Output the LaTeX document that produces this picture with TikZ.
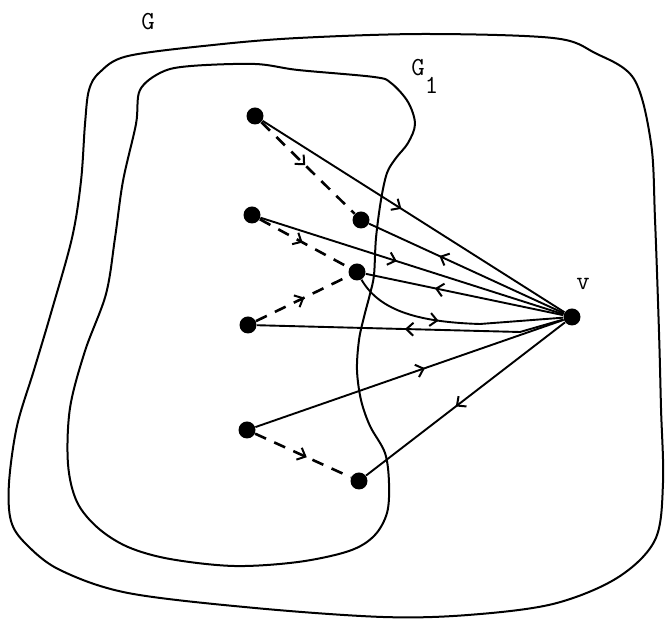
\documentclass[tikz,border=0pt]{standalone}
\usetikzlibrary{arrows.meta,decorations.markings}
\tikzset{
  vertex/.style={circle, fill=black, inner sep=0pt, minimum size=8.5pt},
  region/.style={line width=1pt, line join=round},
  edge/.style={line width=0.95pt},
  pathedge/.style={line width=1.3pt, dash pattern=on 6pt off 4.5pt},
  midarrow/.style={postaction={decorate}, decoration={markings,
      mark=at position #1 with {\arrow{Straight Barb[length=3.5pt,width=6.5pt,line width=1pt]}}}},
  lbl/.style={font=\fontsize{13}{15}\selectfont\ttfamily, inner sep=0pt}
}
\begin{document}
\begin{tikzpicture}[x=0.5pt,y=-0.5pt]
  \useasboundingbox (0,0) rectangle (666,625);
  % the graph G
  \draw[region] plot[smooth cycle, tension=0.55] coordinates {
    (128,56) (100,72) (89,90) (85,124) (81,181) (72,238) (51,313) (34,370)
    (17,426) (9,483) (11,521) (26,544) (60,570) (128,593) (255,608) (383,617)
    (468,615) (553,604) (617,578) (655,540) (663,483) (661,408) (659,332)
    (655,219) (651,143) (634,79) (595,53) (553,38) (425,34) (298,38) (213,45)};
  % the subgraph G1
  \draw[region] plot[smooth cycle, tension=0.55] coordinates {
    (140,90) (162,72) (191,66) (255,64) (298,70) (374,77) (391,83) (408,102)
    (415,124) (408,143) (396,158) (387,173) (381,200) (376,238) (374,275)
    (370,294) (364,317) (359,340) (357,370) (361,400) (370,426) (385,453)
    (389,483) (387,513) (374,536) (349,551) (298,562) (234,566) (170,559)
    (128,547) (98,528) (77,502) (68,464) (70,408) (85,351) (106,294)
    (115,238) (123,181) (136,124)};
  \node[lbl] (gbig) at (148,22) {G};
  \node[lbl, anchor=base west] (gsub) at (411,76) {G\raisebox{-9pt}{1}};

  % vertices
  \node[vertex] (a1) at (255,116) {};
  \node[vertex] (b1) at (361,220) {};
  \node[vertex] (a2) at (252,215) {};
  \node[vertex] (b2) at (357,272) {};
  \node[vertex] (a3) at (248,325) {};
  \node[vertex] (a4) at (247,430) {};
  \node[vertex] (b4) at (359,481) {};
  \node[vertex] (v) at (572,317) {};
  \node[lbl] (vlbl) at (583,284) {v};
  \coordinate (kink) at (520,332);
  \coordinate (bend) at (480,324);

  % paths inside G1
  \draw[pathedge, midarrow=0.47] (a1) -- (b1);
  \draw[pathedge, midarrow=0.48] (a2) -- (b2);
  \draw[pathedge, midarrow=0.52] (a3) -- (b2);
  \draw[pathedge, midarrow=0.54] (a4) -- (b4);

  % edges at v
  \draw[edge, midarrow=0.46] (a1) -- (v);
  \draw[edge, midarrow=0.64] (v) -- (b1);
  \draw[edge, midarrow=0.45] (a2) -- (v);
  \draw[edge, midarrow=0.65] (v) -- (b2);
  \draw[edge, midarrow=0.42] (b2) .. controls (378,308) and (412,322) .. (bend) -- (v);
  \draw[edge, midarrow=0.52] (v) -- (kink) -- (a3);
  \draw[edge, midarrow=0.55] (a4) -- (v);
  \draw[edge, midarrow=0.55] (v) -- (b4);
\end{tikzpicture}
\end{document}
